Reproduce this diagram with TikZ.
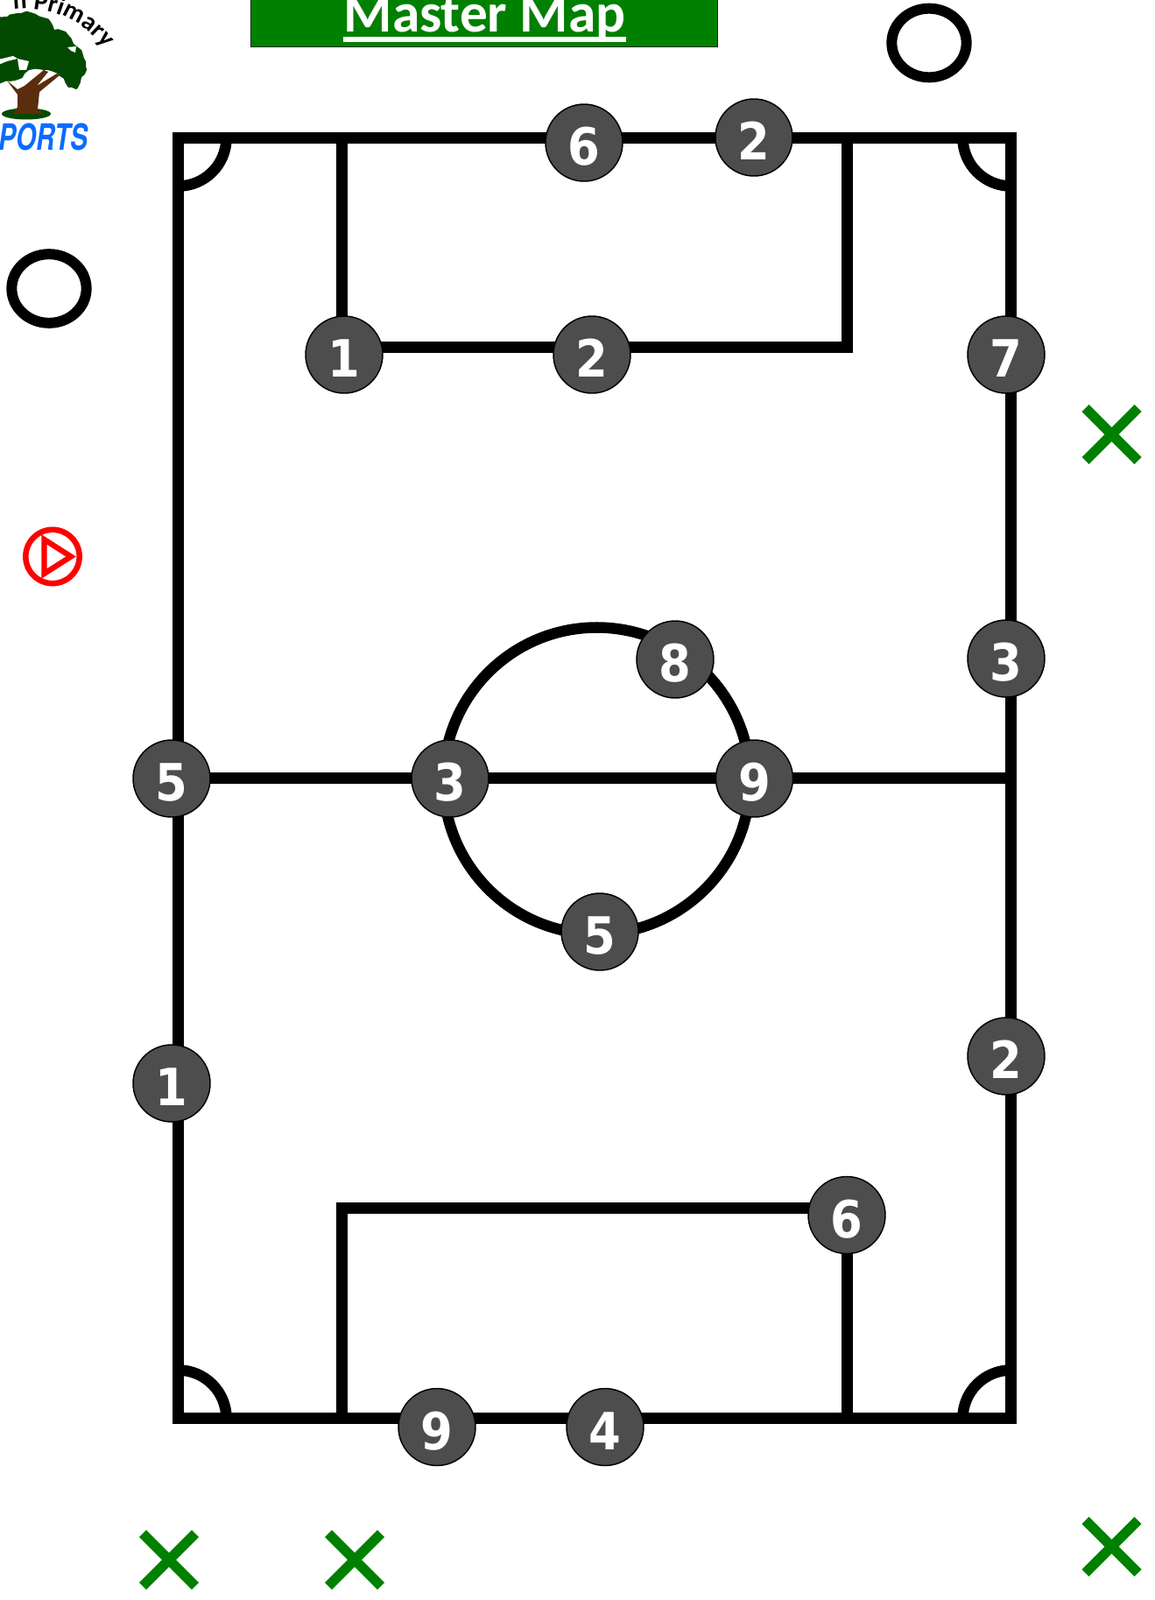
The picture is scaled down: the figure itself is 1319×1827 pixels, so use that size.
\documentclass[tikz,border=0pt]{standalone}
\usepackage{fontspec}
\setmainfont{Carlito}
\newfontfamily\sportsfont{TeX Gyre Heros}
\newfontfamily\numfont{DejaVu Sans Condensed}
\usetikzlibrary{shapes.geometric,decorations.text,decorations.pathmorphing}
\definecolor{PlayerGrey}{HTML}{4D4D4D}
\definecolor{TitleGreen}{HTML}{008000}
\definecolor{LeafGreen}{HTML}{034A00}
\definecolor{TrunkBrown}{HTML}{5A2D0C}
\definecolor{SportsBlue}{HTML}{0A6CFF}
\tikzstyle{pl} = [circle, minimum size=66pt, inner sep=0pt, draw=black, line width=1.1pt, fill=PlayerGrey, text=white, font=\numfont\fontsize{44}{44}\selectfont\bfseries, text height=38.9pt, text depth=0pt]
\tikzstyle{pitch} = [draw=black, line width=9.75pt, line join=miter]
\tikzstyle{corner} = [draw=black, line width=9.4pt]
\tikzstyle{cone} = [ellipse, draw=black, line width=9pt, minimum width=64pt, minimum height=59pt, inner sep=0pt]
\tikzstyle{cross} = [draw=TitleGreen, line width=8.5pt]
\tikzstyle{leaf} = [fill=LeafGreen, decorate, decoration={random steps, segment length=4pt, amplitude=1.2pt}]
\begin{document}
\begin{tikzpicture}[x=0.75pt, y=-0.75pt]
\path[use as bounding box, clip] (0, 0) rectangle (1319, 1827);
\coordinate (tl) at (203.5, 157.5);
\coordinate (tr) at (1154.5, 157.5);
\coordinate (bl) at (203.5, 1619.5);
\coordinate (br) at (1154.5, 1619.5);
\coordinate (hl) at (203.5, 888);
\coordinate (hr) at (1154.5, 888);
\coordinate (ta) at (390.5, 157.5);
\coordinate (tb) at (390.5, 396);
\coordinate (tc) at (967.5, 396);
\coordinate (td) at (967.5, 157.5);
\coordinate (ba) at (390.5, 1619.5);
\coordinate (bb) at (390.5, 1379);
\coordinate (bc) at (967.5, 1379);
\coordinate (bd) at (967.5, 1619.5);
\coordinate (mid) at (681.5, 891.5);
\draw[pitch] (tl) -- (tr) -- (br) -- (bl) -- cycle;
\draw[pitch] (hl) -- (hr);
\draw[pitch] (ta) -- (tb) -- (tc) -- (td);
\draw[pitch] (ba) -- (bb) -- (bc) -- (bd);
\draw[corner] (mid) circle (175);
\draw[corner] (tl) ++(55, 0) arc (0:90:55);
\draw[corner] (tr) ++(-55, 0) arc (180:90:55);
\draw[corner] (bl) ++(55, 0) arc (0:-90:55);
\draw[corner] (br) ++(-55, 0) arc (180:270:55);
\node[pl] (six1) at (667, 163) {6};
\node[pl] (two1) at (861, 157) {2};
\node[pl] (one1) at (393, 405) {1};
\node[pl] (two2) at (676, 405) {2};
\node[pl] (seven) at (1149, 405) {7};
\node[pl] (eight) at (771, 753) {8};
\node[pl] (three1) at (1149, 752) {3};
\node[pl] (five1) at (196, 889) {5};
\node[pl] (three2) at (514, 889) {3};
\node[pl] (nine1) at (861.5, 889) {9};
\node[pl] (five2) at (685, 1064) {5};
\node[pl] (one2) at (196, 1237) {1};
\node[pl] (two3) at (1149, 1206) {2};
\node[pl] (six2) at (967, 1387.5) {6};
\node[pl] (nine2) at (499, 1629.5) {9};
\node[pl] (four) at (691, 1629.5) {4};
\node[cone] (cone1) at (1061, 49) {};
\node[cone] (cone2) at (56, 329.5) {};
\node[circle, draw=red, line width=4.9pt, minimum size=46pt, inner sep=0pt] (start) at (60, 635.5) {};
\draw[red, line width=4.7pt] (50.5, 616) -- (81, 635.5) -- (50.5, 655) -- cycle;
\foreach \cx/\cy in {1269.5/496, 1269.5/1766, 193/1781, 405/1781} {
  \coordinate (c1) at (\cx-30, \cy-30);
  \coordinate (c2) at (\cx+30, \cy+30);
  \coordinate (c3) at (\cx-30, \cy+30);
  \coordinate (c4) at (\cx+30, \cy-30);
  \draw[cross] (c1) -- (c2);
  \draw[cross] (c3) -- (c4);
}
\fill[TitleGreen] (286.5, -5) rectangle (819.5, 53.5);
\draw[black!70!TitleGreen, line width=0.7pt] (286.5, -5) rectangle (819.5, 53.5);
\node[anchor=base, inner sep=0pt, text=white, font=\fontsize{47.5}{47.5}\selectfont\bfseries] (title) at (553.5, 37) {Master Map};
\draw[white, line width=3.9pt] ([yshift=-6pt]title.base west) -- ([yshift=-6pt]title.base east);
\path[leaf] (-8, 22) -- (20, 15) -- (35, 14) -- (50, 20) -- (58, 25) -- (62, 34) -- (75, 36) -- (84, 50) -- (93, 57) -- (98, 70) -- (99, 80) -- (87, 102) -- (78, 100) -- (73, 90) -- (66, 84) -- (50, 80) -- (33, 80) -- (23, 90) -- (-8, 97) -- cycle;
\fill[white] (20, 67) -- (33, 70) -- (30, 80) -- (22, 80) -- cycle;
\fill[white] (77, 54) -- (87, 53) -- (86, 60) -- (81, 58) -- cycle;
\fill[white] (-2, 68) -- (15, 64) -- (20, 67) -- (8, 70) -- (-2, 74) -- cycle;
\fill[LeafGreen] (30, 130) ellipse (28 and 6.5);
\fill[TrunkBrown] (8, 92) -- (20, 102) -- (28, 98) -- (50, 80) -- (55, 82) -- (42, 98) -- (65, 84) -- (68, 86) -- (45, 105) -- (43, 125) -- (50, 130) -- (15, 130) -- (20, 122) -- (20, 108) -- cycle;
\path[decorate, decoration={text along path, text color=black, text={|\fontsize{22}{22}\selectfont\bfseries|n Primary}, text align={align=right}}] (30, 120) ++(-125:110) arc (-125:-36:110);
\node[anchor=base east, inner sep=0pt, text=SportsBlue, font=\sportsfont\fontsize{31}{31}\selectfont\bfseries\itshape] (sports) at (101, 171) {\scalebox{.72}[1]{SPORTS}};
\end{tikzpicture}
\end{document}
